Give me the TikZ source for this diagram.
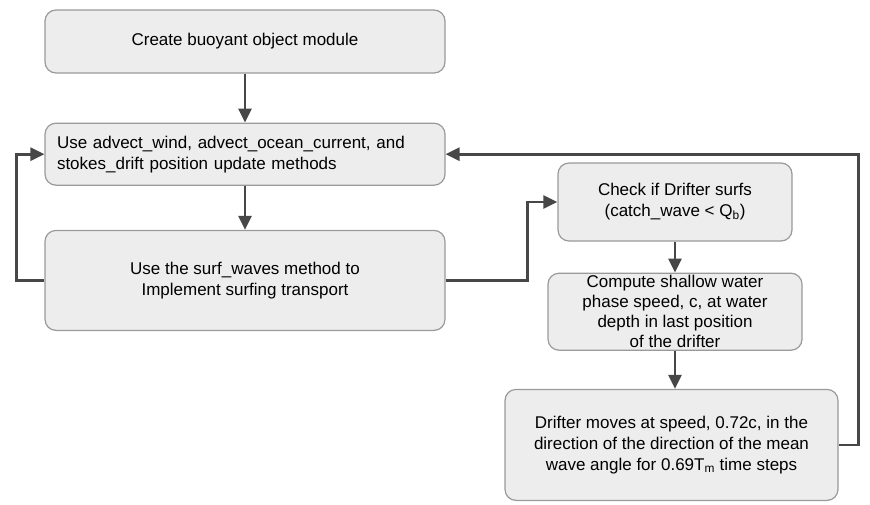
\documentclass[tikz,border=0pt]{standalone}
\usepackage{fontspec}
\setmainfont{Liberation Sans}
\usetikzlibrary{positioning,arrows.meta}

\definecolor{boxfill}{HTML}{EDEDED}
\definecolor{boxline}{HTML}{9A9A9A}
\definecolor{flowline}{HTML}{474747}

\tikzset{
  process/.style={draw=boxline, fill=boxfill, line width=1.2pt, rounded corners=11pt,
    font=\fontsize{17}{21}\selectfont, align=center, inner sep=0pt},
  flow/.style={draw=flowline, line width=2.6pt, -{Triangle[length=14pt,width=13pt]}}
}

\begin{document}
\begin{tikzpicture}[x=1pt, y=-1pt]
            \useasboundingbox (0,0) rectangle (870,504);
            % left column
            \node[process, minimum width=400pt, minimum height=63pt] (Create) at (245,41.5) {Create buoyant object module};
            \node[process, minimum width=400pt, minimum height=62pt, text width=376pt, align=left, below=49pt of Create] (Advect) {Use advect\_wind, advect\_ocean\_current, and\\stokes\_drift position update methods};
            \node[process, minimum width=400pt, minimum height=100pt, below=44pt of Advect] (Surf) {Use the surf\_waves method to\\Implement surfing transport};
            % right column
            \node[process, minimum width=234pt, minimum height=78pt] (Check) at (675,202) {Check if Drifter surfs\\(catch\_wave < Q\textsubscript{b})};
            \node[process, minimum width=254pt, minimum height=77pt, font=\fontsize{17}{20}\selectfont, below=31pt of Check] (Compute) {Compute shallow water\\phase speed, c, at water\\depth in last position\\of the drifter};
            \node[process, minimum width=333pt, minimum height=111pt, below=38pt of Compute, xshift=-3.5pt] (Moves) {Drifter moves at speed, 0.72c, in the\\direction of the direction of the mean\\wave angle for 0.69T\textsubscript{m} time steps};

            \draw[flow] (Create) -- (Advect);
            \draw[flow] (Advect) -- (Surf);
            \draw[flow] (Check) -- (Compute);
            \draw[flow] (Compute) -- (Compute |- Moves.north);
            \draw[flow] (Surf.west) -- ++(-28,0) |- (Advect.west);
            \draw[flow] (Surf.east) -- ++(82,0) |- (Check.west);
            \draw[flow] (Moves.east) -- ++(20,0) |- (Advect.east);
        \end{tikzpicture}
\end{document}
